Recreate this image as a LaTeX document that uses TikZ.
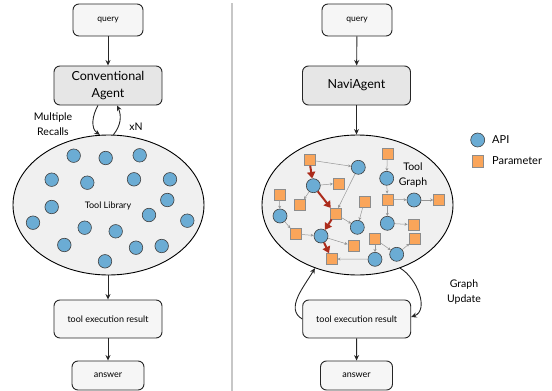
\documentclass[tikz,border=0pt]{standalone}
\usepackage{fontspec}
\setmainfont{Lato}
\usetikzlibrary{arrows.meta,shapes.geometric}
\definecolor{apiblue}{RGB}{107,172,212}
\definecolor{paramorange}{RGB}{250,165,90}
\definecolor{pathred}{RGB}{172,44,28}
\definecolor{edgegray}{RGB}{150,150,150}
\definecolor{libfill}{RGB}{240,240,240}
\definecolor{boxfill}{RGB}{246,246,246}
\definecolor{agentfill}{RGB}{230,230,230}
\begin{document}
\begin{tikzpicture}[x=1pt,y=-1pt,
  lightbox/.style={draw=black!85, line width=0.9pt, rounded corners=6pt, fill=boxfill, align=center, inner sep=0pt},
  agentbox/.style={draw=black!85, line width=0.9pt, rounded corners=6pt, fill=agentfill, align=center, inner sep=0pt,
    minimum width=108pt, minimum height=39pt, font=\fontsize{12.5}{16.5}\selectfont},
  querybox/.style={lightbox, minimum width=70pt, minimum height=32pt, font=\fontsize{8.5}{10}\selectfont},
  resbox/.style={lightbox, minimum width=108pt, minimum height=38pt, font=\fontsize{9}{10}\selectfont},
  ansbox/.style={lightbox, minimum width=72pt, minimum height=29pt, font=\fontsize{9}{10}\selectfont},
  libell/.style={ellipse, draw=black, line width=0.9pt, fill=libfill, minimum width=191pt, minimum height=140pt, inner sep=0pt},
  api/.style={circle, draw=black!75, fill=apiblue, minimum size=13.5pt, inner sep=0pt, line width=0.6pt},
  param/.style={rectangle, draw=black!45, fill=paramorange, minimum size=11pt, inner sep=0pt, line width=0.5pt},
  flow/.style={draw=black!85, line width=0.9pt, -{Stealth[length=5.5pt,width=5pt]}},
  gedge/.style={draw=edgegray, line width=0.5pt, -{Stealth[length=3pt,width=3pt]}},
  redge/.style={draw=pathred, line width=2pt, -{Triangle[length=6.5pt,width=8pt]}},
  lbl/.style={font=\fontsize{10.5}{15.5}\selectfont, align=center, inner sep=0pt},
]
\useasboundingbox (0,0) rectangle (552,391);
% divider
\coordinate (divtop) at (232,3);
\coordinate (divbot) at (232,391);
\draw[black!22, line width=1.3pt] (divtop) -- (divbot);

% ================= LEFT =================
\node[querybox] (qL) at (108,20) {query};
\node[agentbox] (agL) at (108,85.5) {Conventional\\Agent};
\node[libell] (libL) at (108.5,205) {};
\node[font=\fontsize{9}{10}\selectfont] (libtxt) at (108,206) {Tool Library};
\node[resbox] (resL) at (108,319) {tool execution result};
\node[ansbox] (ansL) at (108,375.5) {answer};

\draw[flow] (qL) -- (agL);
\draw[flow] (libL.south -| resL.north) -- (resL);
\draw[flow] (resL) -- (ansL);
\draw[flow] ([xshift=-10pt]agL.south) to[out=-120,in=145] (libL.97);
\draw[flow] (libL.86) to[out=50,in=-65] ([xshift=9pt]agL.south);
\node[lbl] (recall) at (53,124) {Multiple\\Recalls};
\node[lbl] (xn) at (136,127) {xN};

\foreach \n/\x/\y in {a1/73.7/155.7, a2/105.7/158, a3/139.7/155.3, a4/51.7/179.7, a5/87.3/182.7,
  a6/134/179.3, a7/170/179.3, a8/51.7/207, a9/167.3/200, a10/149/215, a11/33/222.7,
  a12/84.7/227.7, a13/115.7/231.3, a14/187.3/220.7, a15/64.3/245, a16/136/247.7,
  a17/161.7/246, a18/105/261.3}
  \node[api] (\n) at (\x,\y) {};

% ================= RIGHT =================
\node[querybox] (qR) at (357,20) {query};
\node[agentbox] (agR) at (356.5,85.5) {NaviAgent};
\node[libell] (libR) at (357.5,205) {};
\node[resbox] (resR) at (356.7,319) {tool execution result};
\node[ansbox] (ansR) at (356.5,375.5) {answer};
\draw[flow] (qR) -- (agR);
\draw[flow] (agR) -- (agR |- libR.north);
\draw[flow] (resR) -- (ansR);
\draw[flow] (resR.west) to[out=150,in=-120] (libR.236);
\draw[flow] (libR.304) to[out=-30,in=20] ([yshift=2pt]resR.east);
\node[lbl] (gupd) at (464,292) {Graph\\Update};
\node[lbl] (tgraph) at (413,175) {Tool\\Graph};

% legend
\node[api, minimum size=14pt] (legA) at (477.7,140) {};
\node[lbl, anchor=west, font=\fontsize{11}{12}\selectfont] (legAt) at (492,140) {API};
\node[param, minimum size=11.5pt] (legP) at (477.7,161) {};
\node[lbl, anchor=west, font=\fontsize{11}{12}\selectfont] (legPt) at (492,161) {Parameter};

% graph nodes
\foreach \n/\x/\y in {s1/309.3/160, s2/338.7/183.3, s3/279.3/194.3, s4/300/205, s5/364.3/201.7,
  s6/335.3/213.7, s7/387.3/154, s8/387.3/199.3, s9/439/200, s10/413.3/224.7, s11/295.3/234,
  s12/353.3/246, s13/375/239, s14/415/239, s15/331.7/259}
  \node[param] (\n) at (\x,\y) {};
\foreach \n/\x/\y in {c1/358.3/167.3, c2/313.3/185.7, c3/386.7/178.3, c4/414/200, c5/280/216,
  c6/357.3/227.3, c7/387.3/223.3, c8/321/236, c9/396.7/254.3, c10/375/259.3}
  \node[api, minimum size=14pt] (\n) at (\x,\y) {};

% gray edges
\draw[gedge] (s1) -- (c1);
\draw[gedge] (c2) -- (s2);
\draw[gedge] (c2) -- (s4);
\draw[gedge] (c1) -- (s6);
\draw[gedge] (s3) -- (c5);
\draw[gedge] (c5) -- (s11);
\draw[gedge] (s11) -- (c8);
\draw[gedge] (s6) -- (c6);
\draw[gedge] (s5) -- (c6);
\draw[gedge] (c8) -- (s12);
\draw[gedge] (c10) -- (s15);
\draw[gedge] (s13) -- (c10);
\draw[gedge] (s13) -- (c9);
\draw[gedge] (c9) -- (s14);
\draw[gedge] (s7) -- (c3);
\draw[gedge] (c3) -- (s8);
\draw[gedge] (s8) -- (c4);
\draw[gedge] (c4) -- (s9);
\draw[gedge] (s8) -- (c7);
\draw[gedge] (c7) -- (s10);
% red path
\draw[redge] (s1) -- (c2);
\draw[redge] (c2) -- (s6);
\draw[redge] (s6) -- (c8);
\draw[redge] (c8) -- (s15);
\end{tikzpicture}
\end{document}
